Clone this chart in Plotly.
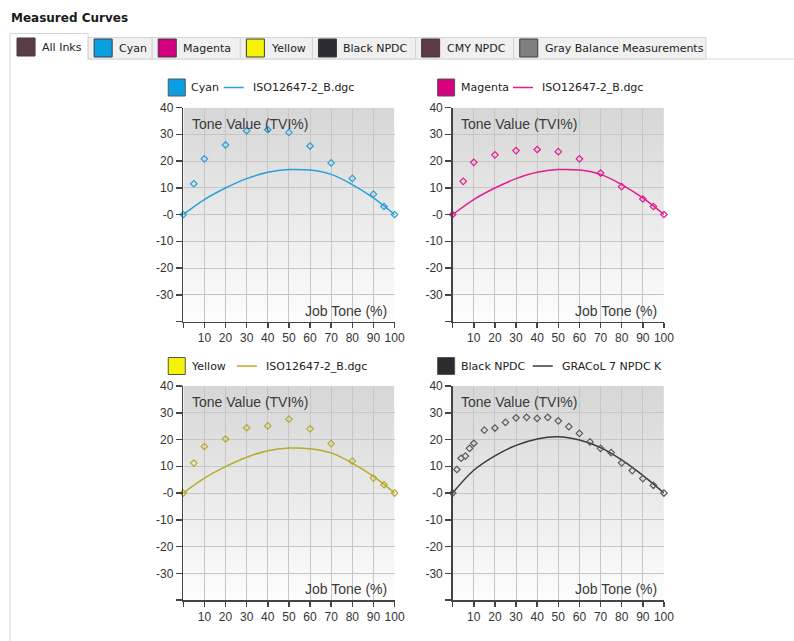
import base64
import plotly.graph_objects as go

W, H = 794, 641

# ---------------- data ----------------
ref_x = [0, 10, 20, 30, 40, 50, 60, 70, 80, 90, 100]
iso_b = [0, 5.6, 9.9, 13.4, 15.8, 16.8, 16.6, 15.0, 11.2, 6.2, 0]
gracol_k = [0, 8.5, 13.9, 17.8, 20.2, 21.0, 19.8, 17.0, 12.4, 6.6, 0]

cmy_x = [0, 5, 10, 20, 30, 40, 50, 60, 70, 80, 90, 95, 100]
cyan_y = [0, 11.5, 20.8, 26.0, 31.3, 31.7, 30.7, 25.6, 19.3, 13.5, 7.6, 3.0, 0]
magenta_y = [0, 12.4, 19.5, 22.3, 23.9, 24.3, 23.5, 20.8, 15.5, 10.4, 5.8, 3.0, 0]
yellow_y = [0, 11.2, 17.4, 20.2, 24.4, 25.1, 27.6, 24.0, 18.5, 11.9, 5.6, 3.1, 0]

black_x = [0, 2, 4, 6, 8, 10, 15, 20, 25, 30, 35, 40, 45, 50, 55, 60, 65, 70,
           75, 80, 85, 90, 95, 100]
black_y = [0, 8.8, 13.0, 13.8, 16.7, 18.6, 23.5, 24.3, 26.4, 28.1, 28.3, 27.9,
           28.3, 27.0, 24.8, 22.3, 19.1, 16.7, 15.1, 11.3, 8.4, 5.4, 2.9, 0]

x_tickvals = [0, 10, 20, 30, 40, 50, 60, 70, 80, 90, 100]
x_ticktext = ["", "10", "20", "30", "40", "50", "60", "70", "80", "90", "100"]
y_tickvals = [-40, -30, -20, -10, 0, 10, 20, 30, 40]
y_ticktext = ["", "-30", "-20", "-10", "-0", "10", "20", "30", "40"]

tab_labels = ["All Inks", "Cyan", "Magenta", "Yellow", "Black NPDC", "CMY NPDC",
              "Gray Balance Measurements"]
tab_colors = ["#5b3b47", "#0a9fe0", "#d6007e", "#f4f400", "#2c2b30", "#5e3a45", "#7f7f7f"]
tab_edges = [10, 88, 152, 240, 312, 415, 513, 705]

charts = [
    dict(name="Cyan", ref="ISO12647-2_B.dgc", color="#2a9fd8", swatch="#0a9fe0",
         mcolor="#2a9fd8", mx=cmy_x, my=cyan_y, ry=iso_b),
    dict(name="Magenta", ref="ISO12647-2_B.dgc", color="#e21d8e", swatch="#d6007e",
         mcolor="#e21d8e", mx=cmy_x, my=magenta_y, ry=iso_b),
    dict(name="Yellow", ref="ISO12647-2_B.dgc", color="#b5ac2c", swatch="#f4f400",
         mcolor="#b5ac2c", mx=cmy_x, my=yellow_y, ry=iso_b),
    dict(name="Black NPDC", ref="GRACoL 7 NPDC K", color="#3a3a3a", swatch="#2c2b30",
         mcolor="#5a5a5a", mx=black_x, my=black_y, ry=gracol_k),
]

# ---------------- layout helpers ----------------
# target pixel positions -> paper fractions (compensates the capture's scale/offset)
SX, SY, OY = 0.986, 0.989, 6.5


def px(x):
    return (x / SX) / W


def py(y):
    return 1 - ((y - OY) / SY) / H


plot_boxes = [  # left, right, top, bottom in target pixels
    (183, 394, 107, 321),
    (452, 663, 107, 321),
    (183, 394, 385.5, 599.5),
    (452, 663, 385.5, 599.5),
]

FONT_UI = "DejaVu Sans"
FONT_AX = "Liberation Sans"

svg = ('<svg xmlns="http://www.w3.org/2000/svg" width="10" height="100" '
       'preserveAspectRatio="none"><defs><linearGradient id="g" x1="0" y1="0" '
       'x2="0" y2="1"><stop offset="0" stop-color="#d6d6d6"/>'
       '<stop offset="1" stop-color="#fdfdfd"/></linearGradient></defs>'
       '<rect width="10" height="100" fill="url(#g)"/></svg>')
grad_src = "data:image/svg+xml;base64," + base64.b64encode(svg.encode()).decode()

fig = go.Figure()
layout = dict(
    width=W, height=H, autosize=False,
    margin=dict(l=0, r=0, t=0, b=0),
    paper_bgcolor="white", plot_bgcolor="white",
    showlegend=False,
    font=dict(family=FONT_AX, size=12, color="#333"),
)
shapes, annotations, images = [], [], []

for i, (c, box) in enumerate(zip(charts, plot_boxes)):
    n = "" if i == 0 else str(i + 1)
    xa, ya = "x" + n, "y" + n
    l, r, t, b = box
    layout["xaxis" + n] = dict(
        domain=[px(l), px(r)], anchor=ya, range=[0, 100],
        tickvals=x_tickvals, ticktext=x_ticktext,
        showgrid=True, gridcolor="#c6c6c6", gridwidth=1,
        showline=True, linecolor="#444", linewidth=1.5,
        ticks="outside", ticklen=5, tickwidth=1.5, tickcolor="#444",
        tickfont=dict(family=FONT_AX, size=12, color="#333"),
        zeroline=False, fixedrange=True,
    )
    layout["yaxis" + n] = dict(
        domain=[py(b), py(t)], anchor=xa, range=[-40, 40],
        tickvals=y_tickvals, ticktext=y_ticktext,
        showgrid=True, gridcolor="#c6c6c6", gridwidth=1,
        showline=True, linecolor="#444", linewidth=1.5,
        ticks="outside", ticklen=6, tickwidth=1.5, tickcolor="#444",
        tickfont=dict(family=FONT_AX, size=12, color="#333"),
        zeroline=False, fixedrange=True,
    )
    images.append(dict(source=grad_src, xref=xa, yref=ya, x=0, y=40,
                       sizex=100, sizey=80, sizing="stretch", layer="below",
                       xanchor="left", yanchor="top"))
    fig.add_trace(go.Scatter(
        x=ref_x, y=c["ry"], mode="lines", xaxis=xa, yaxis=ya,
        line=dict(color=c["color"], width=1.5, shape="spline", smoothing=1.0),
        cliponaxis=False, name=c["ref"], hoverinfo="skip"))
    fig.add_trace(go.Scatter(
        x=c["mx"], y=c["my"], mode="markers", xaxis=xa, yaxis=ya,
        marker=dict(symbol="diamond-open", size=5, color=c["mcolor"],
                    line=dict(width=1.2, color=c["mcolor"])),
        cliponaxis=False, name=c["name"], hoverinfo="skip"))
    annotations.append(dict(text="Tone Value (TVI%)", xref=xa, yref=ya, x=3, y=34,
                            xanchor="left", yanchor="middle", showarrow=False,
                            font=dict(family=FONT_AX, size=14, color="#3a3a3a")))
    annotations.append(dict(text="Job Tone (%)", xref=xa, yref=ya, x=97.5, y=-36,
                            xanchor="right", yanchor="middle", showarrow=False,
                            font=dict(family=FONT_AX, size=14, color="#3a3a3a")))
    # legend row above the chart
    ly = t - 20
    sx0 = l - 15
    shapes.append(dict(type="rect", xref="paper", yref="paper",
                       x0=px(sx0), x1=px(sx0 + 17), y0=py(ly + 8.5), y1=py(ly - 8.5),
                       fillcolor=c["swatch"], line=dict(color="#555", width=1)))
    name_x = sx0 + 21
    annotations.append(dict(text=c["name"], xref="paper", yref="paper",
                            x=px(name_x), y=py(ly), xanchor="left", yanchor="middle",
                            showarrow=False,
                            font=dict(family=FONT_UI, size=11, color="#222")))
    name_w = len(c["name"]) * 6.6
    lx0 = name_x + name_w + 8
    shapes.append(dict(type="line", xref="paper", yref="paper",
                       x0=px(lx0), x1=px(lx0 + 20), y0=py(ly), y1=py(ly),
                       line=dict(color=c["color"], width=1.5)))
    annotations.append(dict(text=c["ref"], xref="paper", yref="paper",
                            x=px(lx0 + 27), y=py(ly), xanchor="left", yanchor="middle",
                            showarrow=False,
                            font=dict(family=FONT_UI, size=11, color="#222")))

# ---------------- header: title, tabs, panel ----------------
annotations.append(dict(text="<b>Measured Curves</b>", xref="paper", yref="paper",
                        x=px(9), y=py(17), xanchor="left", yanchor="middle",
                        showarrow=False,
                        font=dict(family=FONT_UI, size=12, color="#1a1a1a")))
# panel
shapes.append(dict(type="rect", xref="paper", yref="paper", layer="below",
                   x0=px(10), x1=px(830), y0=py(680), y1=py(58.5),
                   fillcolor="white", line=dict(color="#d9d9d9", width=1)))
for k, label in enumerate(tab_labels):
    x0, x1 = tab_edges[k], tab_edges[k + 1]
    active = k == 0
    top, bot = (33, 59) if active else (37, 58.5)
    shapes.append(dict(type="rect", xref="paper", yref="paper", layer="below",
                       x0=px(x0), x1=px(x1), y0=py(bot), y1=py(top),
                       fillcolor="white" if active else "#f0f0f0",
                       line=dict(color="#d4d4d4", width=1)))
    ix0 = x0 + (7 if active else 6)
    iy = 46.5 if active else 47.5
    shapes.append(dict(type="rect", xref="paper", yref="paper",
                       x0=px(ix0), x1=px(ix0 + 18), y0=py(iy + 9), y1=py(iy - 9),
                       fillcolor=tab_colors[k], line=dict(color="#3c3c3c", width=1)))
    annotations.append(dict(text=label, xref="paper", yref="paper",
                            x=px(ix0 + 23), y=py(iy), xanchor="left", yanchor="middle",
                            showarrow=False,
                            font=dict(family=FONT_UI, size=11, color="#222")))
# erase panel top line under active tab
shapes.append(dict(type="line", xref="paper", yref="paper",
                   x0=px(10.5), x1=px(87.5), y0=py(58.8), y1=py(58.8),
                   line=dict(color="white", width=2)))

layout["shapes"] = shapes
layout["annotations"] = annotations
layout["images"] = images
fig.update_layout(**layout)

fig.write_html(
    "out.html",
    config={"displayModeBar": False, "staticPlot": True},
    post_script="document.body.style.margin='0';document.body.style.overflow='hidden';",
)
